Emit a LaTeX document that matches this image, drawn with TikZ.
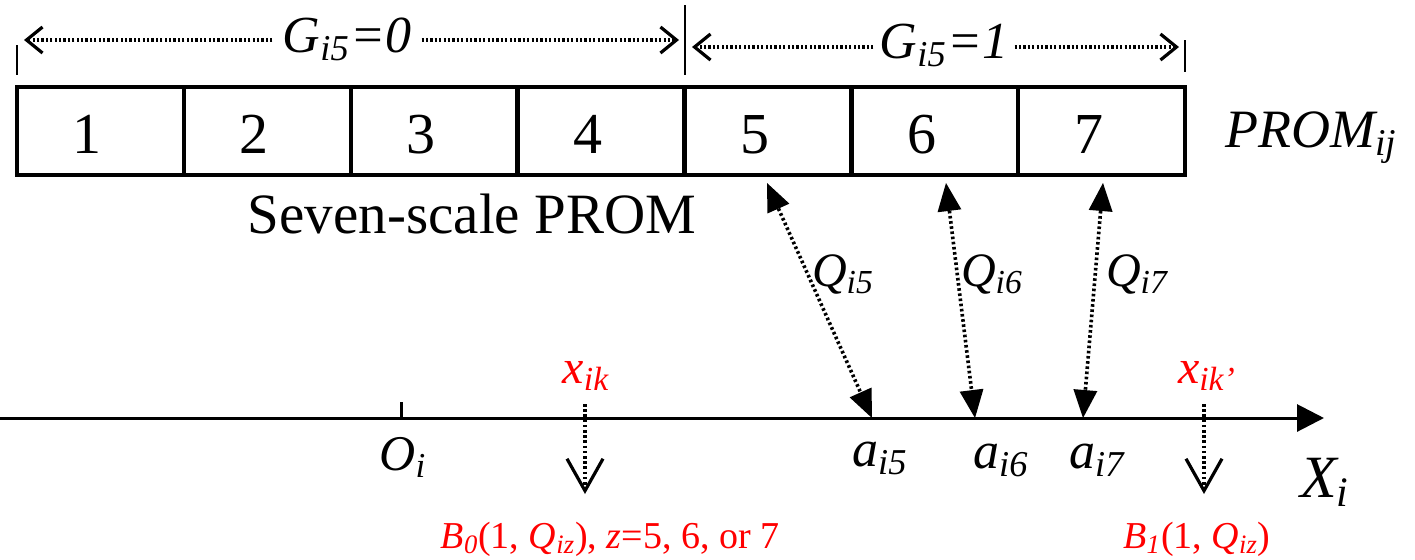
\documentclass[tikz,border=0pt]{standalone}
\usepackage{fontspec}
\setmainfont{Liberation Serif}
\usetikzlibrary{arrows.meta}
\newcommand\sbt[1]{\textsubscript{\itshape #1}}
\newcommand\sz[2]{\scalebox{#1}{#2}}
\definecolor{lblred}{RGB}{255,0,0}
\begin{document}
\begin{tikzpicture}[x=0.5pt,y=-0.5pt,
  basefont/.style={font=\fontsize{20pt}{22pt}\selectfont,anchor=base,inner sep=0pt},
  cell/.style={draw,line width=2.2pt,minimum width=83.43pt,minimum height=44pt,inner sep=0pt,outer sep=0pt},
  digit/.style={basefont},
  ttl/.style={basefont},
  glab/.style={basefont,font=\fontsize{20pt}{22pt}\selectfont\itshape,inner sep=5pt},
  qlab/.style={basefont,font=\fontsize{20pt}{22pt}\selectfont\itshape},
  alab/.style={basefont,font=\fontsize{20pt}{22pt}\selectfont\itshape},
  redlab/.style={basefont,text=lblred,font=\fontsize{20pt}{22pt}\selectfont\itshape},
  redtext/.style={basefont,text=lblred,font=\fontsize{19pt}{21pt}\selectfont},
  tick/.style={line width=0.8pt},
  gdot/.style={line width=1.6pt,dash pattern=on 1.1pt off 1.1pt,-{Straight Barb[length=8pt,width=13pt,line width=1.6pt]}},
  qdot/.style={line width=1.8pt,dash pattern=on 1.3pt off 1.3pt,{Triangle[length=14pt,width=12pt,line width=0pt]}-{Triangle[length=14pt,width=12pt,line width=0pt]}},
  bdot/.style={line width=1.8pt,dash pattern=on 1.3pt off 1.3pt,-{Straight Barb[length=16pt,width=18pt,line width=1.6pt]}},
  axis/.style={line width=1.5pt,-{Triangle[length=13.5pt,width=13.5pt]}}
]
\useasboundingbox (0,0) rectangle (1415,559);
% cells
\foreach \k in {1,...,7}{
  \node[cell] (c\k) at ({17+166.86*(\k-0.5)},131) {};
  \node[digit] (d\k) at ({17+166.86*(\k-0.5)-13},153) {\sz{1.45}{\k}};
}
\node[ttl] (title) at (472,233) {\sz{1.425}{Seven-scale PROM}};
\node[basefont,font=\fontsize{20pt}{22pt}\selectfont\itshape,anchor=base west] (prom) at (1225,147) {\sz{1.35}{PROM\sbt{ij}}};
% top ticks
\coordinate (t1a) at (17,45); \coordinate (t1b) at (17,75);
\coordinate (t2a) at (685,5); \coordinate (t2b) at (685,75);
\coordinate (t3a) at (1185,40); \coordinate (t3b) at (1185,72);
\draw[tick] (t1a) -- (t1b);
\draw[tick] (t2a) -- (t2b);
\draw[tick] (t3a) -- (t3b);
% G arrows
\node[glab] (g0) at (347,52) {\sz{1.3}{G\sbt{i5}=0}};
\coordinate (g0l) at (24,40); \coordinate (g0r) at (679,40);
\draw[gdot] (g0l -| g0.west) -- (g0l);
\draw[gdot] (g0r -| g0.east) -- (g0r);
\node[glab,inner sep=3pt] (g1) at (944,58) {\sz{1.3}{G\sbt{i5}=1}};
\coordinate (g1l) at (692,47); \coordinate (g1r) at (1179,47);
\draw[gdot] (g1l -| g1.west) -- (g1l);
\draw[gdot] (g1r -| g1.east) -- (g1r);
% axis
\coordinate (axl) at (0,418); \coordinate (axr) at (1324,418);
\draw[axis] (axl) -- (axr);
\coordinate (o1) at (401,402); \coordinate (o2) at (401,418);
\draw[line width=1.5pt] (o1) -- (o2);
\node[alab] (O) at (403,470) {\sz{1.25}{O\sbt{i}}};
\node[alab] (a5) at (880,466) {\sz{1.3}{a\sbt{i5}}};
\node[alab] (a6) at (1001,468) {\sz{1.3}{a\sbt{i6}}};
\node[alab] (a7) at (1097,468) {\sz{1.3}{a\sbt{i7}}};
\node[alab] (X) at (1325,497) {\sz{1.5}{X\sbt{i}}};
% Q arrows
\coordinate (p5) at (767,183); \coordinate (p6) at (946,183); \coordinate (p7) at (1103,183);
\coordinate (q5) at (872,418); \coordinate (q6) at (975,418); \coordinate (q7) at (1083,418);
\draw[qdot] (p5) -- (q5);
\draw[qdot] (p6) -- (q6);
\draw[qdot] (p7) -- (q7);
\node[qlab] (Q5) at (843,286) {\sz{1.2}{Q\sbt{i5}}};
\node[qlab] (Q6) at (992,286) {\sz{1.2}{Q\sbt{i6}}};
\node[qlab] (Q7) at (1137,286) {\sz{1.2}{Q\sbt{i7}}};
% x_ik arrows
\node[redlab] (xk) at (586,383) {\sz{1.2}{x\sbt{ik}}};
\node[redlab] (xkp) at (1207,383) {\sz{1.2}{x\sbt{ik’}}};
\coordinate (b0a) at (585,404); \coordinate (b0b) at (585,494);
\coordinate (b1a) at (1204,404); \coordinate (b1b) at (1204,494);
\draw[bdot] (b0a) -- (b0b);
\draw[bdot] (b1a) -- (b1b);
\node[redtext] (B0) at (610,548) {{\itshape B\sbt{0}}(1, {\itshape Q\sbt{iz}}), {\itshape z}=5, 6, or 7};
\node[redtext] (B1) at (1197,548) {{\itshape B\sbt{1}}(1, {\itshape Q\sbt{iz}})};
\end{tikzpicture}
\end{document}
